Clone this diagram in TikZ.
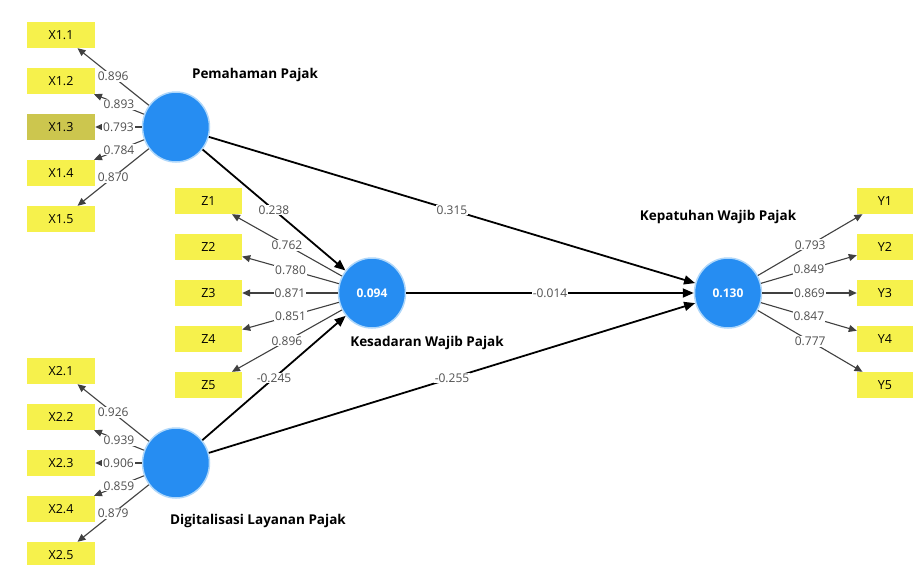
\documentclass[tikz,border=0pt]{standalone}
\usepackage{fontspec}
\setmainfont{Open Sans}
\usetikzlibrary{arrows.meta,shapes.geometric}
\definecolor{ind}{RGB}{246,241,76}
\definecolor{indsel}{RGB}{204,198,78}
\definecolor{lv}{RGB}{38,141,242}
\definecolor{halo}{RGB}{175,215,250}
\definecolor{val}{RGB}{80,80,80}
\begin{document}
\begin{tikzpicture}[x=1pt,y=-1pt,
 indbox/.style={fill=ind, minimum width=68pt, minimum height=26pt, inner sep=0pt, font=\fontsize{12.5}{14}\selectfont},
 ybox/.style={indbox, minimum width=56pt},
 lvnode/.style={ellipse, fill=lv, draw=halo, line width=1.5pt, minimum width=67pt, minimum height=70pt, inner sep=0pt, text=white, font=\bfseries\fontsize{12}{14}\selectfont},
 lvname/.style={font=\bfseries\fontsize{13.5}{16}\selectfont},
 load/.style={draw=black!75, line width=1.1pt, -{Triangle[length=8pt,width=7pt]}},
 pathl/.style={draw=black, line width=1.8pt, -{Triangle[length=11pt,width=9pt]}},
 lbl/.style={midway, fill=white, inner sep=1pt, text=val, font=\fontsize{12}{14}\selectfont}]
\useasboundingbox (0,0) rectangle (914,565);

% latent variables
\node[lvnode] (pp) at (176,127) {};
\node[lvnode] (kw) at (372,293) {0.094};
\node[lvnode] (kp) at (728,293) {0.130};
\node[lvnode] (dl) at (176,463) {};

\node[lvname] (ppn) at (255,75) {Pemahaman Pajak};
\node[lvname] (kwn) at (427,343) {Kesadaran Wajib Pajak};
\node[lvname] (kpn) at (718,217) {Kepatuhan Wajib Pajak};
\node[lvname] (dln) at (258,521) {Digitalisasi Layanan Pajak};

% X1 indicators
\foreach \i/\y/\v/\c in {1/35/0.896/ind, 2/81/0.893/ind, 3/127/0.793/indsel, 4/173/0.784/ind, 5/219/0.870/ind}{
  \node[indbox, fill=\c] (x1\i) at (61,\y) {X1.\i};
  \draw[load] (pp) -- node[lbl]{\v} (x1\i);
}
% X2 indicators
\foreach \i/\y/\v in {1/371/0.926, 2/417/0.939, 3/463/0.906, 4/509/0.859, 5/555/0.879}{
  \node[indbox] (x2\i) at (61,\y) {X2.\i};
  \draw[load] (dl) -- node[lbl]{\v} (x2\i);
}
% Z indicators
\foreach \i/\y/\v in {1/201/0.762, 2/247/0.780, 3/293/0.871, 4/339/0.851, 5/385/0.896}{
  \node[indbox, minimum width=67pt] (z\i) at (208.5,\y) {Z\i};
  \draw[load] (kw) -- node[lbl]{\v} (z\i);
}
% Y indicators
\foreach \i/\y/\v in {1/201/0.793, 2/247/0.849, 3/293/0.869, 4/339/0.847, 5/385/0.777}{
  \node[ybox] (y\i) at (885,\y) {Y\i};
  \draw[load] (kp) -- node[lbl]{\v} (y\i);
}

% structural paths
\draw[pathl] (pp) -- node[lbl]{0.238} (kw);
\draw[pathl] (pp) -- node[lbl]{0.315} (kp);
\draw[pathl] (kw) -- node[lbl]{-0.014} (kp);
\draw[pathl] (dl) -- node[lbl]{-0.245} (kw);
\draw[pathl] (dl) -- node[lbl]{-0.255} (kp);
\end{tikzpicture}
\end{document}
